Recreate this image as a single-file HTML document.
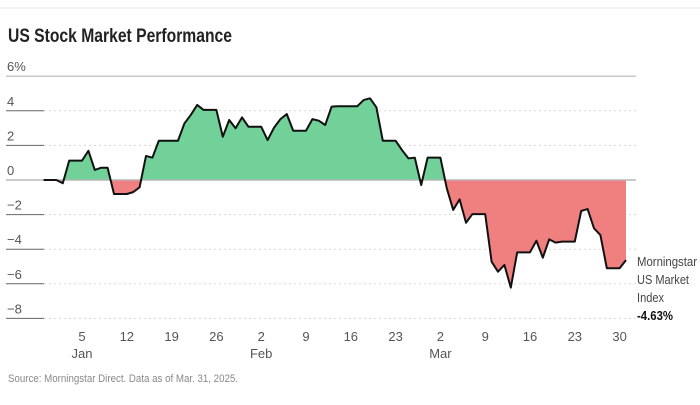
<!DOCTYPE html>
<html><head><meta charset="utf-8"><style>
body{margin:0;background:#fff;}
svg text{font-family:"Liberation Sans Narrow","Liberation Sans",sans-serif;}
</style></head><body>
<svg width="700" height="400" viewBox="0 0 700 400" xmlns="http://www.w3.org/2000/svg">
<line x1="0" y1="8" x2="700" y2="8" stroke="#e3e3e3"/>
<text x="8" y="42" font-size="19" font-weight="bold" fill="#222" textLength="224" lengthAdjust="spacingAndGlyphs" style="font-family:'Liberation Sans',sans-serif">US Stock Market Performance</text>
<g id="grid"></g>
<g id="plot"></g>
<g id="xaxis"></g>
<g font-size="13" fill="#444">
<text x="637" y="266" textLength="60" lengthAdjust="spacingAndGlyphs">Morningstar</text>
<text x="637" y="284" textLength="52" lengthAdjust="spacingAndGlyphs">US Market</text>
<text x="637" y="302" textLength="27" lengthAdjust="spacingAndGlyphs">Index</text>
<text x="637" y="320" font-weight="bold" fill="#111" textLength="36" lengthAdjust="spacingAndGlyphs">-4.63%</text>
</g>
<text x="8" y="382" font-size="11" fill="#888" textLength="230" lengthAdjust="spacingAndGlyphs">Source: Morningstar Direct. Data as of Mar. 31, 2025.</text>
</svg>
<script>
const dates=["12-31","01-01","01-02","01-03","01-05","01-06","01-07","01-08","01-09","01-10","01-12","01-13","01-14","01-15","01-16","01-17","01-20","01-21","01-22","01-23","01-24","01-26","01-27","01-28","01-29","01-30","01-31","02-02","02-03","02-04","02-05","02-06","02-07","02-09","02-10","02-11","02-12","02-13","02-14","02-16","02-17","02-18","02-19","02-20","02-21","02-23","02-24","02-25","02-26","02-27","02-28","03-02","03-03","03-04","03-05","03-06","03-07","03-09","03-10","03-11","03-12","03-13","03-14","03-16","03-17","03-18","03-19","03-20","03-21","03-23","03-24","03-25","03-26","03-27","03-28","03-30","03-31"];
const values=[0,0,-0.19,1.12,1.12,1.69,0.58,0.71,0.71,-0.81,-0.81,-0.7,-0.42,1.39,1.29,2.27,2.27,3.27,3.76,4.34,4.05,4.05,2.5,3.47,2.99,3.62,3.08,3.08,2.31,3.02,3.52,3.81,2.85,2.85,3.52,3.43,3.18,4.24,4.26,4.26,4.26,4.62,4.72,4.2,2.27,2.27,1.73,1.25,1.29,-0.29,1.29,1.29,-0.48,-1.73,-1.12,-2.47,-1.97,-1.97,-4.72,-5.3,-4.91,-6.22,-4.18,-4.18,-3.51,-4.49,-3.43,-3.62,-3.56,-3.56,-1.79,-1.68,-2.79,-3.18,-5.1,-5.1,-4.63];
const yTicks=[6,4,2,0,-2,-4,-6,-8];
const yTickLabels=["6%","4","2","0","\u22122","\u22124","\u22126","\u22128"];
const xTickDates=["01-05","01-12","01-19","01-26","02-02","02-09","02-16","02-23","03-02","03-09","03-16","03-23","03-30"];
const xTickLabels=["5","12","19","26","2","9","16","23","2","9","16","23","30"];
const monthLabels=["Jan","Feb","Mar"];
const monthDates=["01-05","02-02","03-02"];
const NS="http://www.w3.org/2000/svg";
function doy(s){const [m,d]=s.split("-").map(Number);if(m===12)return d-31-1;return [0,0,31,59][m]+d;}
function X(s){return 82+(doy(s)-5)*6.4;}
function Y(v){return 180-v*17.3;}
function mk(tag,attrs,parent){const e=document.createElementNS(NS,tag);for(const k in attrs)e.setAttribute(k,attrs[k]);parent.appendChild(e);return e;}
const grid=document.getElementById("grid"),plot=document.getElementById("plot"),xa=document.getElementById("xaxis");
yTicks.forEach((t,i)=>{
 const y=Y(t);
 const g=mk("g",{},grid);
 
 
 if(t===6||t===0){mk("line",{x1:6,x2:636,y1:y,y2:y,stroke:"#b5b5b5","stroke-width":1.2},g);}
 else{mk("line",{x1:44,x2:636,y1:y,y2:y,stroke:"#d8d8d8","stroke-dasharray":"2,3"},g);mk("line",{x1:6,x2:44,y1:y,y2:y,stroke:"#666"},g);}
 const tx=mk("text",{x:7,y:y-5,"font-size":13,fill:"#555"},g);tx.textContent=yTickLabels[i];
 
 
});
const pts=dates.map((d,i)=>[X(d),Y(values[i])]);
const area="M"+pts[0][0]+","+Y(0)+" "+pts.map(p=>"L"+p[0]+","+p[1]).join(" ")+" L"+pts[pts.length-1][0]+","+Y(0)+"Z";
const defs=mk("defs",{},plot);
const c1=mk("clipPath",{id:"above"},defs);mk("rect",{x:0,y:0,width:700,height:Y(0)},c1);
const c2=mk("clipPath",{id:"below"},defs);mk("rect",{x:0,y:Y(0),width:700,height:400},c2);
const ga=mk("path",{d:area,fill:"#72d198","clip-path":"url(#above)"},plot);


const la=mk("path",{d:area,fill:"#f08080","clip-path":"url(#below)"},plot);


const zl=mk("line",{x1:6,x2:636,y1:Y(0),y2:Y(0),stroke:"#b5b5b5","stroke-width":1.2},plot);


const ln=mk("path",{d:"M"+pts.map(p=>p[0]+","+p[1]).join(" L"),fill:"none",stroke:"#111","stroke-width":2,"stroke-linejoin":"round"},plot);


xTickDates.forEach((d,i)=>{
 const t=mk("text",{x:X(d),y:341,"font-size":13,fill:"#555","text-anchor":"middle"},xa);t.textContent=xTickLabels[i];
 
 
});
monthDates.forEach((d,i)=>{
 const t=mk("text",{x:X(d),y:358,"font-size":13,fill:"#555","text-anchor":"middle"},xa);t.textContent=monthLabels[i];
 
 
});
</script>
</body></html>
